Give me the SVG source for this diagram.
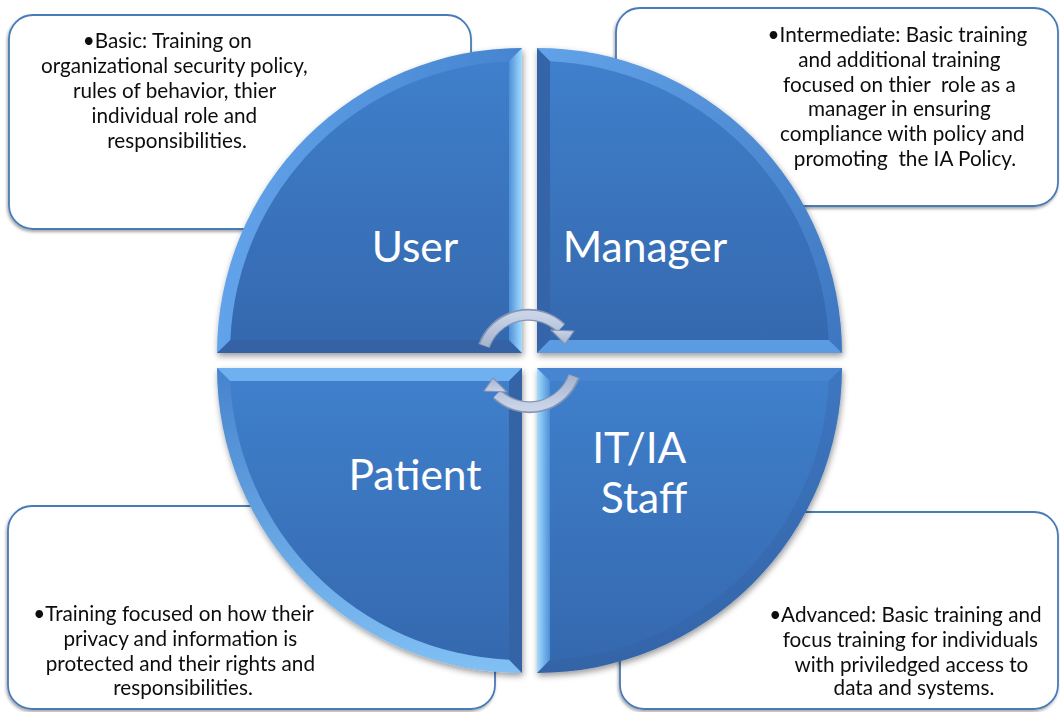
<svg xmlns="http://www.w3.org/2000/svg" width="1060" height="712" viewBox="0 0 1060 712">
  <style>
    .box { fill: #ffffff; stroke: #4a7bb7; stroke-width: 1.8; }
    .desc { font-family: Lato, "Liberation Sans", sans-serif; font-size: 20.7px; fill: #0d0d0d; text-anchor: middle; }
    .label { font-family: Lato, "Liberation Sans", sans-serif; font-size: 42.5px; fill: #ffffff; text-anchor: middle; }
    .arrow-edge { fill: none; stroke: #8494b2; stroke-width: 12; }
    .arrow-body { fill: none; stroke: url(#arrowFill); stroke-width: 9; }
    .arrow-head { fill: url(#arrowFill); stroke: #8494b2; stroke-width: 1.2; stroke-linejoin: round; }
  </style>
  <defs>
    <filter id="boxShadow" x="-5%" y="-5%" width="110%" height="115%">
      <feDropShadow dx="-1" dy="2" stdDeviation="1.5" flood-color="#000000" flood-opacity="0.35"/>
    </filter>
    <filter id="sliceShadow" x="-10%" y="-10%" width="120%" height="125%">
      <feDropShadow dx="1" dy="3" stdDeviation="3" flood-color="#000000" flood-opacity="0.4"/>
    </filter>
    <linearGradient id="face" x1="0" y1="0" x2="0" y2="1">
      <stop offset="0" stop-color="#3f7fcb"/>
      <stop offset="1" stop-color="#3569af"/>
    </linearGradient>
    <linearGradient id="lightV" x1="0" y1="0" x2="1" y2="0">
      <stop offset="0" stop-color="#4f8fd8"/>
      <stop offset="1" stop-color="#a2dcff"/>
    </linearGradient>
    <linearGradient id="lightVR" x1="0" y1="0" x2="1" y2="0">
      <stop offset="0" stop-color="#a2dcff"/>
      <stop offset="1" stop-color="#4f8fd8"/>
    </linearGradient>
    <linearGradient id="arcUser" x1="0" y1="0" x2="1" y2="0">
      <stop offset="0" stop-color="#62a3ea"/>
      <stop offset="1" stop-color="#4684d0"/>
    </linearGradient>
    <linearGradient id="arcManager" x1="0" y1="0" x2="1" y2="1">
      <stop offset="0" stop-color="#62a2e8"/>
      <stop offset="1" stop-color="#3d76c0"/>
    </linearGradient>
    <linearGradient id="arcPatient" x1="0" y1="0" x2="0" y2="1">
      <stop offset="0" stop-color="#4783cd"/>
      <stop offset="1" stop-color="#80c0f4"/>
    </linearGradient>
    <linearGradient id="arcStaff" x1="0" y1="0" x2="0" y2="1">
      <stop offset="0" stop-color="#3d76c0"/>
      <stop offset="1" stop-color="#3464a8"/>
    </linearGradient>
    <linearGradient id="arrowFill" x1="0" y1="0" x2="0" y2="1">
      <stop offset="0" stop-color="#c9d4e8"/>
      <stop offset="1" stop-color="#a6b4cf"/>
    </linearGradient>
  </defs>

  <!-- description boxes, sitting behind the wheel -->
  <g id="box-user" filter="url(#boxShadow)">
    <rect class="box" x="9" y="15" width="462" height="214" rx="24"/>
    <text class="desc">
      <tspan x="170" y="48">•Basic: Training on</tspan>
      <tspan x="177" y="73">organizational security policy,</tspan>
      <tspan x="177" y="98">rules of behavior, thier</tspan>
      <tspan x="177" y="123">individual role and</tspan>
      <tspan x="177" y="148">responsibilities.</tspan>
    </text>
  </g>
  <g id="box-manager" filter="url(#boxShadow)">
    <rect class="box" x="616" y="8" width="442" height="198" rx="24"/>
    <text class="desc">
      <tspan x="900" y="42">•Intermediate: Basic training</tspan>
      <tspan x="902" y="67">and additional training</tspan>
      <tspan x="902" y="92">focused on thier &#160;role as a</tspan>
      <tspan x="902" y="116">manager in ensuring</tspan>
      <tspan x="905" y="141">compliance with policy and</tspan>
      <tspan x="905" y="166">promoting &#160;the IA Policy.</tspan>
    </text>
  </g>
  <g id="box-patient" filter="url(#boxShadow)">
    <rect class="box" x="8" y="506" width="487" height="203" rx="24"/>
    <text class="desc">
      <tspan x="176" y="621">•Training focused on how their</tspan>
      <tspan x="183" y="646">privacy and information is</tspan>
      <tspan x="183" y="671">protected and their rights and</tspan>
      <tspan x="183" y="695">responsibilities.</tspan>
    </text>
  </g>
  <g id="box-staff" filter="url(#boxShadow)">
    <rect class="box" x="620" y="512" width="438" height="197" rx="24"/>
    <text class="desc">
      <tspan x="908" y="622">•Advanced: Basic training and</tspan>
      <tspan x="913" y="647">focus training for individuals</tspan>
      <tspan x="914" y="672">with priviledged access to</tspan>
      <tspan x="914" y="695">data and systems.</tspan>
    </text>
  </g>

  <!-- wheel quadrants with bevelled edges -->
  <g id="node-user">
    <path filter="url(#sliceShadow)" fill="url(#arcUser)" d="M522,353 H217 A305,305 0 0 1 522,48 Z"/>
    <path fill="#3462a5" d="M522,353 H217 L230.3,340 H509 Z"/>
    <path fill="url(#lightV)" d="M522,353 V48 L509,61.3 V340 Z"/>
    <path fill="url(#face)" d="M509,340 H230.3 A292,292 0 0 1 509,61.3 Z"/>
    <text class="label" x="415" y="262">User</text>
  </g>
  <g id="node-manager">
    <path filter="url(#sliceShadow)" fill="url(#arcManager)" d="M537,353 V48 A305,305 0 0 1 842,353 Z"/>
    <path fill="#3565a8" d="M537,353 V48 L550,61.3 V340 Z"/>
    <path fill="#5a9be2" d="M537,353 H842 L828.7,340 H550 Z"/>
    <path fill="url(#face)" d="M550,340 V61.3 A292,292 0 0 1 828.7,340 Z"/>
    <text class="label" x="645" y="262">Manager</text>
  </g>
  <g id="node-patient">
    <path filter="url(#sliceShadow)" fill="url(#arcPatient)" d="M522,368 H217 A305,305 0 0 0 522,673 Z"/>
    <path fill="#6eb0f0" d="M522,368 H217 L230.3,381 H509 Z"/>
    <path fill="#3463a6" d="M522,368 V673 L509,659.7 V381 Z"/>
    <path fill="url(#face)" d="M509,381 H230.3 A292,292 0 0 0 509,659.7 Z"/>
    <text class="label" x="415" y="490">Patient</text>
  </g>
  <g id="node-staff">
    <path filter="url(#sliceShadow)" fill="url(#arcStaff)" d="M537,368 H842 A305,305 0 0 1 537,673 Z"/>
    <path fill="#4885d0" d="M537,368 H842 L828.7,381 H550 Z"/>
    <path fill="url(#lightVR)" d="M537,368 V673 L550,659.7 V381 Z"/>
    <path fill="url(#face)" d="M550,381 H828.7 A292,292 0 0 1 550,659.7 Z"/>
    <text class="label">
      <tspan x="644" y="463">IT/IA</tspan>
      <tspan x="644" y="513">Staff</tspan>
    </text>
  </g>

  <!-- circular arrows in the hub -->
  <g id="connectors">
    <g id="cycle-top">
      <path class="arrow-edge" d="M484,346 A47,47 0 0 1 561,328"/>
      <path class="arrow-body" d="M484.5,345.5 A47,47 0 0 1 561,328"/>
      <polygon class="arrow-head" points="551,330 574,331 565,344"/>
    </g>
    <g id="cycle-bottom" transform="rotate(180 529 361)">
      <path class="arrow-edge" d="M484,346 A47,47 0 0 1 561,328"/>
      <path class="arrow-body" d="M484.5,345.5 A47,47 0 0 1 561,328"/>
      <polygon class="arrow-head" points="551,330 574,331 565,344"/>
    </g>
  </g>
</svg>
